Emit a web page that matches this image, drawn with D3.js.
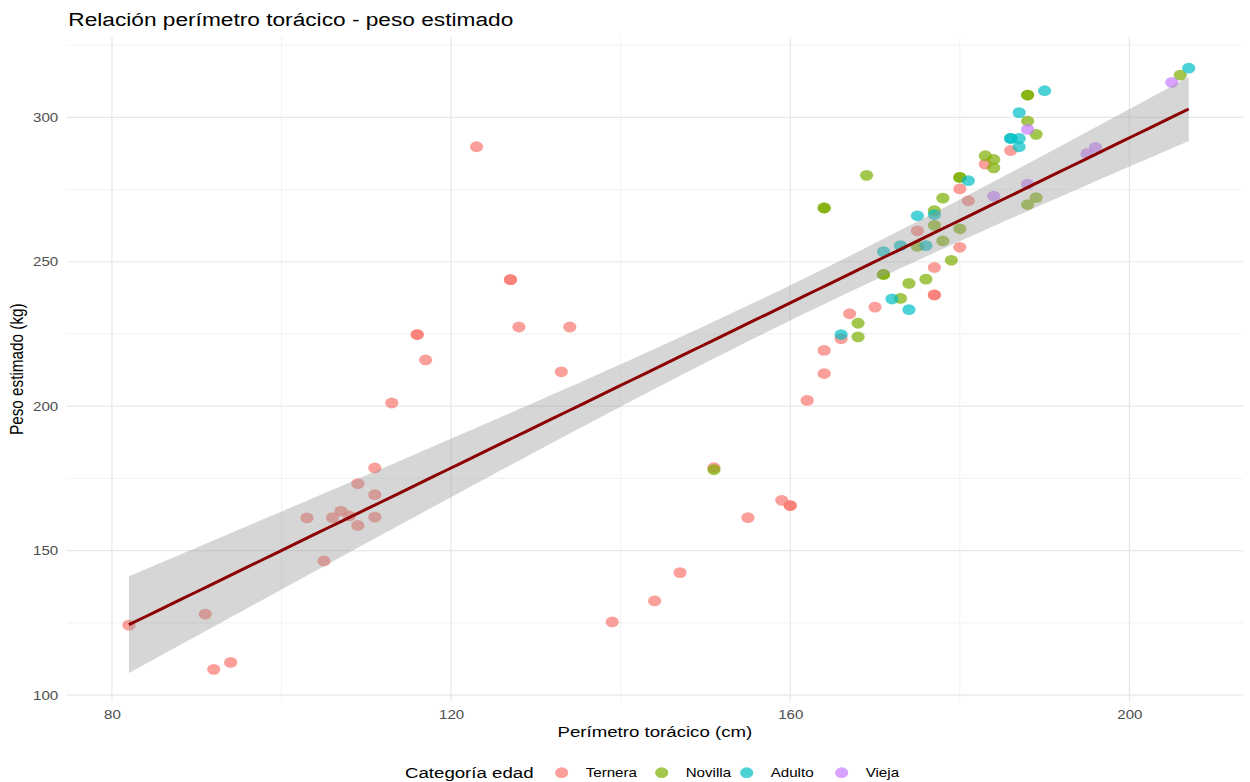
<!DOCTYPE html>
<html>
<head>
<meta charset="utf-8">
<script src="https://cdn.jsdelivr.net/npm/d3@7"></script>
<style>
  body { margin: 0; background: #ffffff; }
  svg { display: block; }
  text { font-family: "Liberation Sans", Arial, Helvetica, sans-serif; }
</style>
</head>
<body>
<svg id="chart" width="1250" height="782"></svg>
<script>
// ---------------- DATA ----------------
const categories = ["Ternera", "Novilla", "Adulto", "Vieja"];
const categoryColors = ["#F8766D", "#7CAE00", "#00BFC4", "#C77CFF"];

const perimetroTernera = [82, 91, 92, 94, 103, 105, 106, 107, 108, 109, 109, 111, 111, 111, 113, 116, 116, 117, 123, 127, 127, 128, 133, 134, 139, 144, 147, 151, 155, 159, 160, 160, 162, 164, 164, 166, 167, 170, 175, 177, 177, 177, 180, 180, 181, 183, 186];
const pesoTernera      = [124.2, 128, 108.9, 111.3, 161.3, 146.4, 161.4, 163.7, 162, 173.2, 158.7, 178.6, 169.4, 161.6, 201.1, 224.8, 224.8, 216, 289.8, 243.8, 243.8, 227.4, 211.9, 227.4, 125.3, 132.6, 142.4, 178.7, 161.4, 167.4, 165.6, 165.6, 202, 211.3, 219.3, 223.4, 232, 234.3, 260.7, 248, 238.5, 238.5, 255, 275.2, 271.1, 283.8, 288.5];

const perimetroNovilla = [151, 164, 164, 168, 168, 169, 171, 171, 173, 174, 175, 176, 177, 177, 178, 178, 179, 180, 180, 180, 183, 184, 184, 188, 188, 188, 189, 189, 188, 206];
const pesoNovilla      = [178, 268.6, 268.6, 228.7, 224, 279.9, 245.6, 245.6, 237.3, 242.5, 255.3, 244, 267.7, 262.6, 272, 257.2, 250.5, 279.2, 279.2, 261.4, 286.7, 285.4, 282.5, 307.7, 307.7, 298.7, 294.1, 272.2, 269.8, 314.6];

const perimetroAdulto = [166, 171, 172, 173, 174, 175, 176, 177, 181, 186, 186, 187, 187, 187, 190, 207];
const pesoAdulto      = [224.8, 253.5, 237.1, 255.6, 233.4, 265.9, 255.6, 266.3, 278.1, 292.7, 292.7, 292.7, 289.8, 301.6, 309.2, 317];

const perimetroVieja = [184, 188, 188, 195, 196, 205];
const pesoVieja      = [272.7, 295.8, 276.9, 287.4, 289.6, 312.1];

const xTicks = [80, 120, 160, 200];
const xMinorTicks = [100, 140, 180];
const yTicks = [100, 150, 200, 250, 300];
const yMinorTicks = [125, 175, 225, 275, 325];

const xDomain = [74.66, 213.4];
const yDomain = [97.7, 327.9];

const chartTitle = "Relación perímetro torácico - peso estimado";
const xTitle = "Perímetro torácico (cm)";
const yTitle = "Peso estimado (kg)";
const legendTitle = "Categoría edad";

// ---------------- LAYOUT ----------------
const SX = 1.22; // horizontal stretch of the reference image
const panel = { left: 66.7, right: 1243, top: 36.7, bottom: 701.7 };

const svg = d3.select("#chart");

const x = d3.scaleLinear().domain(xDomain).range([panel.left, panel.right]);
const y = d3.scaleLinear().domain(yDomain).range([panel.bottom, panel.top]);

const seriesX = [perimetroTernera, perimetroNovilla, perimetroAdulto, perimetroVieja];
const seriesY = [pesoTernera, pesoNovilla, pesoAdulto, pesoVieja];

const points = [];
categories.forEach((c, i) => {
  seriesX[i].forEach((v, j) => points.push({ cat: c, ci: i, x: v, y: seriesY[i][j] }));
});

// ---------------- GRID ----------------
const grid = svg.append("g");
grid.selectAll("line.vmin").data(xMinorTicks).join("line")
  .attr("x1", d => x(d)).attr("x2", d => x(d))
  .attr("y1", panel.top).attr("y2", panel.bottom)
  .attr("stroke", "#ededed").attr("stroke-width", 0.7);
grid.selectAll("line.hmin").data(yMinorTicks).join("line")
  .attr("x1", panel.left).attr("x2", panel.right)
  .attr("y1", d => y(d)).attr("y2", d => y(d))
  .attr("stroke", "#ededed").attr("stroke-width", 0.7);
grid.selectAll("line.vmaj").data(xTicks).join("line")
  .attr("x1", d => x(d)).attr("x2", d => x(d))
  .attr("y1", panel.top).attr("y2", panel.bottom)
  .attr("stroke", "#e8e8e8").attr("stroke-width", 1.2);
grid.selectAll("line.hmaj").data(yTicks).join("line")
  .attr("x1", panel.left).attr("x2", panel.right)
  .attr("y1", d => y(d)).attr("y2", d => y(d))
  .attr("stroke", "#e8e8e8").attr("stroke-width", 1.2);

// ---------------- POINTS ----------------
const RX = 6.6, RY = 5.4;
svg.append("g").selectAll("ellipse").data(points).join("ellipse")
  .attr("cx", d => x(d.x)).attr("cy", d => y(d.y))
  .attr("rx", RX).attr("ry", RY)
  .attr("fill", d => categoryColors[d.ci])
  .attr("fill-opacity", 0.7);

// ---------------- LINEAR FIT (lm, 95% CI) ----------------
const n = points.length;
const mx = d3.mean(points, d => d.x), my = d3.mean(points, d => d.y);
const sxx = d3.sum(points, d => (d.x - mx) ** 2);
const sxy = d3.sum(points, d => (d.x - mx) * (d.y - my));
const slope = sxy / sxx, intercept = my - slope * mx;
const rss = d3.sum(points, d => (d.y - (intercept + slope * d.x)) ** 2);
const sigma = Math.sqrt(rss / (n - 2));
const tq = 1.983;
const [xmin, xmax] = d3.extent(points, d => d.x);
const fit = d3.range(0, 81).map(k => {
  const xv = xmin + (xmax - xmin) * k / 80;
  const fv = intercept + slope * xv;
  const se = sigma * Math.sqrt(1 / n + (xv - mx) ** 2 / sxx);
  return { x: xv, y: fv, lo: fv - tq * se, hi: fv + tq * se };
});

svg.append("path").datum(fit)
  .attr("d", d3.area().x(d => x(d.x)).y0(d => y(d.lo)).y1(d => y(d.hi)))
  .attr("fill", "#999999").attr("fill-opacity", 0.4);
svg.append("path").datum(fit)
  .attr("d", d3.line().x(d => x(d.x)).y(d => y(d.y)))
  .attr("fill", "none").attr("stroke", "#8B0000").attr("stroke-width", 3);

// ---------------- AXES ----------------
const xAxis = svg.append("g").attr("transform", `translate(0,${panel.bottom})`)
  .call(d3.axisBottom(x).tickValues(xTicks).tickSize(0).tickPadding(9).tickFormat(d3.format("d")));
xAxis.select(".domain").remove();
xAxis.selectAll("text").attr("font-size", 12.4).attr("fill", "#4d4d4d")
  .attr("font-family", "Liberation Sans, Arial, sans-serif")
  .attr("transform", `scale(${SX},1)`);

const yAxis = svg.append("g").attr("transform", `translate(${panel.left},0)`)
  .call(d3.axisLeft(y).tickValues(yTicks).tickSize(0).tickPadding(6.9).tickFormat(d3.format("d")));
yAxis.select(".domain").remove();
yAxis.selectAll("text").attr("font-size", 12.4).attr("fill", "#4d4d4d")
  .attr("font-family", "Liberation Sans, Arial, sans-serif")
  .attr("transform", `scale(${SX},1)`);

// ---------------- TEXTS ----------------
function stretchedText(px, py, str, size, anchor, rotate, fill) {
  return svg.append("text")
    .attr("transform", `translate(${px},${py}) scale(${SX},1)` + (rotate ? ` rotate(${rotate})` : ""))
    .attr("text-anchor", anchor)
    .attr("font-size", size)
    .attr("fill", fill || "#000000")
    .text(str);
}

stretchedText(68.3, 26, chartTitle, 18.6, "start");
stretchedText((panel.left + panel.right) / 2, 737, xTitle, 15.3, "middle");
stretchedText(23, (panel.top + panel.bottom) / 2, yTitle, 15.3, "middle", -90);

// ---------------- LEGEND ----------------
const legendY = 772.7;
const legendKeyX = [561.7, 661.7, 746.7, 841.7];
stretchedText(405, legendY + 5.5, legendTitle, 15.3, "start");
const lg = svg.append("g");
lg.selectAll("ellipse").data(categories).join("ellipse")
  .attr("cx", (d, i) => legendKeyX[i]).attr("cy", legendY)
  .attr("rx", RX).attr("ry", RY)
  .attr("fill", (d, i) => categoryColors[i]).attr("fill-opacity", 0.7);
categories.forEach((c, i) => {
  stretchedText(legendKeyX[i] + 24, legendY + 4.4, c, 12.4, "start");
});
</script>
</body>
</html>
